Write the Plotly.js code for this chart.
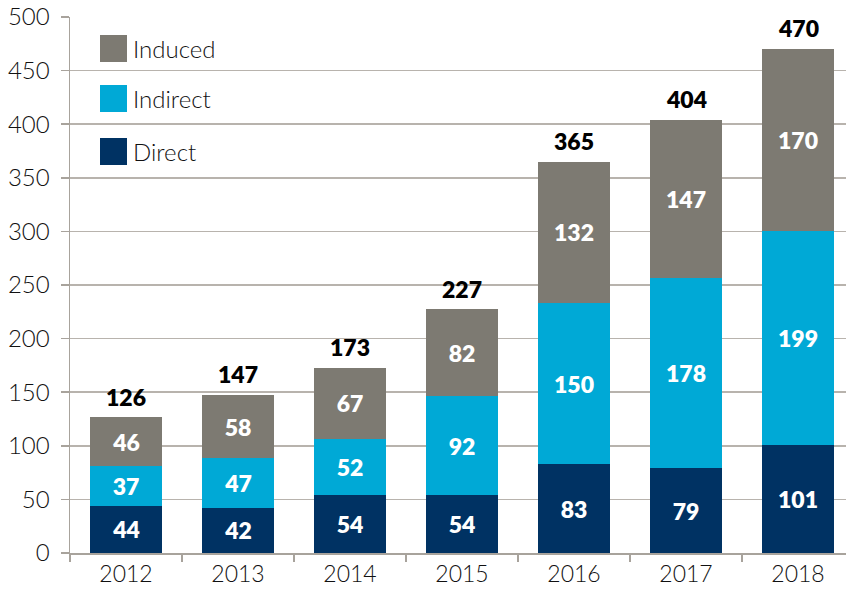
<!DOCTYPE html>
<html>
<head>
<meta charset="utf-8">
<script src="https://cdn.plot.ly/plotly-3.0.1.min.js"></script>
<style>html,body{margin:0;padding:0;background:#fff}#chart{width:846px;height:591px}</style>
</head>
<body>
<div id="chart"></div>
<script>
// Data
const years = ["2012", "2013", "2014", "2015", "2016", "2017", "2018"];
const direct = [44, 42, 54, 54, 83, 79, 101];
const indirect = [37, 47, 52, 92, 150, 178, 199];
const induced = [46, 58, 67, 82, 132, 147, 170];
const totals = [126, 147, 173, 227, 365, 404, 470];
const seriesNames = ["Direct", "Indirect", "Induced"];
const yTicks = [0, 50, 100, 150, 200, 250, 300, 350, 400, 450, 500];

const colors = { Direct: "#003263", Indirect: "#00a9d6", Induced: "#7d7a72" };
const FONT = "Lato, 'Open Sans', sans-serif";
const W = 846, H = 591, ML = 70, MR = 0, MT = 17, MB = 38;
const PW = W - ML - MR, PH = H - MT - MB;
const px2x = p => (p - ML) / PW;
const px2y = p => 1 - (p - MT) / PH;

const seriesVals = { Direct: direct, Indirect: indirect, Induced: induced };
const traces = seriesNames.map(n => ({
  type: "bar",
  name: n,
  x: years,
  y: seriesVals[n],
  text: seriesVals[n].map(String),
  textposition: "inside",
  insidetextanchor: "middle",
  textangle: 0,
  textfont: { family: FONT, size: 23, color: "#ffffff", weight: 800 },
  marker: { color: colors[n], line: { width: 0 } },
  hoverinfo: "skip",
  showlegend: false
}));

// Totals above each bar
const annotations = years.map((yr, i) => ({
  x: i, y: totals[i], xref: "x", yref: "y",
  text: String(totals[i]), showarrow: false,
  xanchor: "center", yanchor: "bottom", yshift: 5,
  font: { family: FONT, size: 23, color: "#000000", weight: 800 }
}));

// Legend (manual, top-left)
const legendItems = ["Induced", "Indirect", "Direct"];
const legendTops = [35, 85, 138];
const shapes = [];
legendItems.forEach((n, i) => {
  shapes.push({
    type: "rect", xref: "paper", yref: "paper",
    x0: px2x(100), x1: px2x(127),
    y0: px2y(legendTops[i] + 27), y1: px2y(legendTops[i]),
    fillcolor: colors[n], line: { width: 0 }
  });
  annotations.push({
    xref: "paper", yref: "paper",
    x: px2x(131), y: px2y(legendTops[i] + 13.5),
    xanchor: "left", yanchor: "middle", showarrow: false,
    text: n,
    font: { family: FONT, size: 24, color: "#111111", weight: 300 }
  });
});

const layout = {
  width: W, height: H,
  margin: { l: ML, r: MR, t: MT, b: MB, pad: 0 },
  paper_bgcolor: "#ffffff", plot_bgcolor: "#ffffff",
  barmode: "stack",
  bargap: 0.36,
  showlegend: false,
  font: { family: FONT, size: 22, color: "#111111", weight: 300 },
  xaxis: {
    type: "category",
    range: [-0.5, -0.5 + PW / 112],
    tickson: "boundaries",
    ticks: "outside", ticklen: 7, tickwidth: 1.5, tickcolor: "#a8a39c",
    showline: true, linecolor: "#a8a39c", linewidth: 1.5,
    showgrid: false, zeroline: false,
    tickfont: { family: FONT, size: 23, color: "#111111", weight: 300 },
    fixedrange: true
  },
  yaxis: {
    range: [0, 500],
    tickvals: yTicks,
    ticktext: yTicks.map(String),
    ticks: "outside", ticklen: 8, tickwidth: 1.5, tickcolor: "#a8a39c",
    showline: true, linecolor: "#a8a39c", linewidth: 1.5,
    showgrid: true, gridcolor: "#b8b3ad", gridwidth: 1.5,
    zeroline: false,
    ticklabelstandoff: 6,
    tickfont: { family: FONT, size: 24, color: "#111111", weight: 300 },
    fixedrange: true
  },
  shapes: shapes,
  annotations: annotations
};

Plotly.newPlot("chart", traces, layout, { staticPlot: true, displayModeBar: false });
</script>
</body>
</html>
